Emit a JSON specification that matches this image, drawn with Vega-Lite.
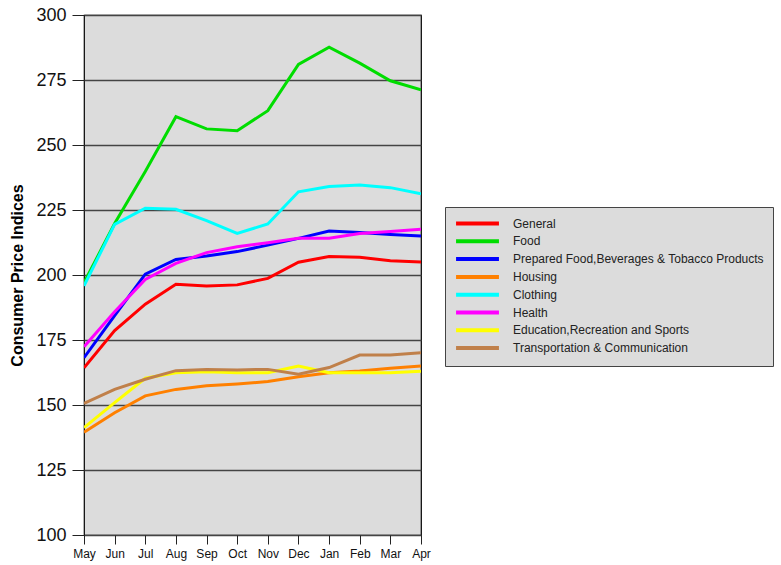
{
  "$schema": "https://vega.github.io/schema/vega-lite/v6.json",
  "width": 337,
  "height": 520,
  "autosize": {"type": "none"},
  "padding": {"left": 84, "top": 15, "right": 360, "bottom": 30},
  "background": "white",
  "config": {
    "font": "Liberation Sans",
    "view": {"fill": "#dcdcdc", "stroke": "#000000", "strokeWidth": 1.2}
  },
  "data": {
    "values": [
      {"month": "May", "category": "General", "value": 164.3},
      {"month": "Jun", "category": "General", "value": 178.6},
      {"month": "Jul", "category": "General", "value": 188.8},
      {"month": "Aug", "category": "General", "value": 196.4},
      {"month": "Sep", "category": "General", "value": 195.8},
      {"month": "Oct", "category": "General", "value": 196.2},
      {"month": "Nov", "category": "General", "value": 198.7},
      {"month": "Dec", "category": "General", "value": 204.9},
      {"month": "Jan", "category": "General", "value": 207.1},
      {"month": "Feb", "category": "General", "value": 206.8},
      {"month": "Mar", "category": "General", "value": 205.5},
      {"month": "Apr", "category": "General", "value": 205.0},
      {"month": "May", "category": "Food", "value": 197.0},
      {"month": "Jun", "category": "Food", "value": 219.8},
      {"month": "Jul", "category": "Food", "value": 239.8},
      {"month": "Aug", "category": "Food", "value": 260.9},
      {"month": "Sep", "category": "Food", "value": 256.2},
      {"month": "Oct", "category": "Food", "value": 255.5},
      {"month": "Nov", "category": "Food", "value": 263.2},
      {"month": "Dec", "category": "Food", "value": 281.0},
      {"month": "Jan", "category": "Food", "value": 287.6},
      {"month": "Feb", "category": "Food", "value": 281.5},
      {"month": "Mar", "category": "Food", "value": 274.7},
      {"month": "Apr", "category": "Food", "value": 271.2},
      {"month": "May", "category": "Prepared Food,Beverages & Tobacco Products", "value": 168.2},
      {"month": "Jun", "category": "Prepared Food,Beverages & Tobacco Products", "value": 184.4},
      {"month": "Jul", "category": "Prepared Food,Beverages & Tobacco Products", "value": 200.3},
      {"month": "Aug", "category": "Prepared Food,Beverages & Tobacco Products", "value": 206.0},
      {"month": "Sep", "category": "Prepared Food,Beverages & Tobacco Products", "value": 207.3},
      {"month": "Oct", "category": "Prepared Food,Beverages & Tobacco Products", "value": 209.0},
      {"month": "Nov", "category": "Prepared Food,Beverages & Tobacco Products", "value": 211.5},
      {"month": "Dec", "category": "Prepared Food,Beverages & Tobacco Products", "value": 214.1},
      {"month": "Jan", "category": "Prepared Food,Beverages & Tobacco Products", "value": 216.9},
      {"month": "Feb", "category": "Prepared Food,Beverages & Tobacco Products", "value": 216.3},
      {"month": "Mar", "category": "Prepared Food,Beverages & Tobacco Products", "value": 215.6},
      {"month": "Apr", "category": "Prepared Food,Beverages & Tobacco Products", "value": 215.0},
      {"month": "May", "category": "Housing", "value": 139.5},
      {"month": "Jun", "category": "Housing", "value": 147.0},
      {"month": "Jul", "category": "Housing", "value": 153.5},
      {"month": "Aug", "category": "Housing", "value": 156.0},
      {"month": "Sep", "category": "Housing", "value": 157.4},
      {"month": "Oct", "category": "Housing", "value": 158.1},
      {"month": "Nov", "category": "Housing", "value": 159.0},
      {"month": "Dec", "category": "Housing", "value": 160.9},
      {"month": "Jan", "category": "Housing", "value": 162.4},
      {"month": "Feb", "category": "Housing", "value": 163.1},
      {"month": "Mar", "category": "Housing", "value": 164.1},
      {"month": "Apr", "category": "Housing", "value": 165.0},
      {"month": "May", "category": "Clothing", "value": 195.8},
      {"month": "Jun", "category": "Clothing", "value": 219.5},
      {"month": "Jul", "category": "Clothing", "value": 225.7},
      {"month": "Aug", "category": "Clothing", "value": 225.3},
      {"month": "Sep", "category": "Clothing", "value": 220.9},
      {"month": "Oct", "category": "Clothing", "value": 216.0},
      {"month": "Nov", "category": "Clothing", "value": 219.6},
      {"month": "Dec", "category": "Clothing", "value": 232.0},
      {"month": "Jan", "category": "Clothing", "value": 234.0},
      {"month": "Feb", "category": "Clothing", "value": 234.6},
      {"month": "Mar", "category": "Clothing", "value": 233.6},
      {"month": "Apr", "category": "Clothing", "value": 231.2},
      {"month": "May", "category": "Health", "value": 172.4},
      {"month": "Jun", "category": "Health", "value": 185.9},
      {"month": "Jul", "category": "Health", "value": 198.3},
      {"month": "Aug", "category": "Health", "value": 204.5},
      {"month": "Sep", "category": "Health", "value": 208.6},
      {"month": "Oct", "category": "Health", "value": 210.9},
      {"month": "Nov", "category": "Health", "value": 212.4},
      {"month": "Dec", "category": "Health", "value": 214.1},
      {"month": "Jan", "category": "Health", "value": 214.1},
      {"month": "Feb", "category": "Health", "value": 216.0},
      {"month": "Mar", "category": "Health", "value": 216.7},
      {"month": "Apr", "category": "Health", "value": 217.6},
      {"month": "May", "category": "Education,Recreation and Sports", "value": 141.3},
      {"month": "Jun", "category": "Education,Recreation and Sports", "value": 150.9},
      {"month": "Jul", "category": "Education,Recreation and Sports", "value": 160.3},
      {"month": "Aug", "category": "Education,Recreation and Sports", "value": 162.4},
      {"month": "Sep", "category": "Education,Recreation and Sports", "value": 162.8},
      {"month": "Oct", "category": "Education,Recreation and Sports", "value": 162.4},
      {"month": "Nov", "category": "Education,Recreation and Sports", "value": 162.4},
      {"month": "Dec", "category": "Education,Recreation and Sports", "value": 165.0},
      {"month": "Jan", "category": "Education,Recreation and Sports", "value": 162.4},
      {"month": "Feb", "category": "Education,Recreation and Sports", "value": 162.4},
      {"month": "Mar", "category": "Education,Recreation and Sports", "value": 162.4},
      {"month": "Apr", "category": "Education,Recreation and Sports", "value": 163.0},
      {"month": "May", "category": "Transportation & Communication", "value": 150.6},
      {"month": "Jun", "category": "Transportation & Communication", "value": 156.0},
      {"month": "Jul", "category": "Transportation & Communication", "value": 159.9},
      {"month": "Aug", "category": "Transportation & Communication", "value": 163.2},
      {"month": "Sep", "category": "Transportation & Communication", "value": 163.7},
      {"month": "Oct", "category": "Transportation & Communication", "value": 163.5},
      {"month": "Nov", "category": "Transportation & Communication", "value": 163.7},
      {"month": "Dec", "category": "Transportation & Communication", "value": 161.8},
      {"month": "Jan", "category": "Transportation & Communication", "value": 164.4},
      {"month": "Feb", "category": "Transportation & Communication", "value": 169.2},
      {"month": "Mar", "category": "Transportation & Communication", "value": 169.2},
      {"month": "Apr", "category": "Transportation & Communication", "value": 170.1}
    ]
  },
  "mark": {"type": "line", "strokeWidth": 3, "strokeJoin": "miter", "clip": true},
  "encoding": {
    "x": {
      "field": "month",
      "type": "ordinal",
      "sort": ["May", "Jun", "Jul", "Aug", "Sep", "Oct", "Nov", "Dec", "Jan", "Feb", "Mar", "Apr"],
      "scale": {"type": "point", "padding": 0},
      "axis": {
        "title": null,
        "labelAngle": 0,
        "labelFontSize": 12,
        "labelColor": "#111111",
        "labelPadding": 4,
        "tickSize": 9,
        "tickColor": "#222222",
        "domain": false,
        "grid": false
      }
    },
    "y": {
      "field": "value",
      "type": "quantitative",
      "scale": {"domain": [100, 300], "nice": false, "zero": false},
      "axis": {
        "title": "Consumer Price Indices",
        "titleFontSize": 16,
        "titleFontWeight": "bold",
        "titleColor": "#000000",
        "titlePadding": 10,
        "values": [100, 125, 150, 175, 200, 225, 250, 275, 300],
        "labelFontSize": 18,
        "labelColor": "#111111",
        "labelPadding": 6,
        "tickSize": 12,
        "tickColor": "#222222",
        "domain": false,
        "grid": true,
        "gridColor": "#444444",
        "gridWidth": 1.5,
        "gridOpacity": 1
      }
    },
    "color": {
      "field": "category",
      "type": "nominal",
      "sort": null,
      "scale": {
        "domain": ["General", "Food", "Prepared Food,Beverages & Tobacco Products", "Housing", "Clothing", "Health", "Education,Recreation and Sports", "Transportation & Communication"],
        "range": ["#ff0000", "#00dd00", "#0000ff", "#ff8000", "#00ffff", "#ff00ff", "#ffff00", "#c0804a"]
      },
      "legend": {
        "title": null,
        "orient": "none",
        "legendX": 361,
        "legendY": 192,
        "fillColor": "#dcdcdc",
        "strokeColor": "#444444",
        "padding": 9,
        "symbolType": "M-4,0H4",
        "symbolSize": 115,
        "symbolStrokeWidth": 4,
        "symbolOffset": 16,
        "labelFontSize": 12,
        "labelColor": "#222222",
        "labelOffset": 28,
        "labelLimit": 400,
        "rowPadding": 0.8
      }
    }
  }
}
